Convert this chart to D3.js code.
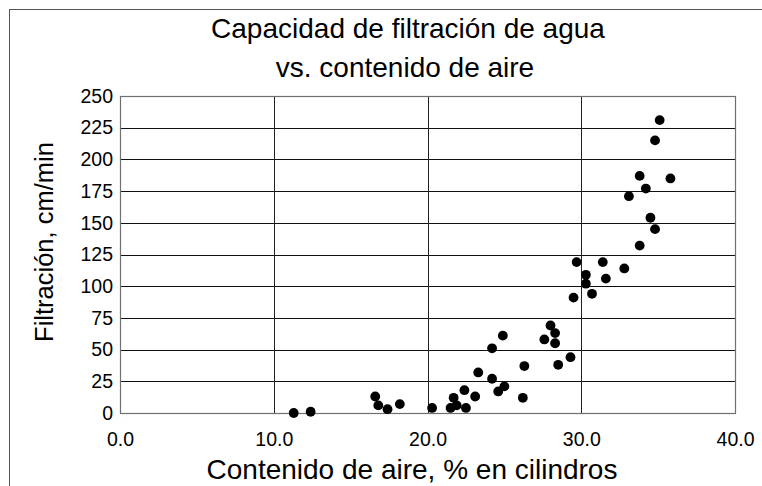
<!DOCTYPE html>
<html>
<head>
<meta charset="utf-8">
<script src="https://cdn.jsdelivr.net/npm/d3@7"></script>
<style>
  body { margin: 0; background: #fff; }
  svg { display: block; font-family: "Liberation Sans", Arial, sans-serif; }
</style>
</head>
<body>
<svg id="chart" width="762" height="486"></svg>
<script>
// valores
var aire = [11.3, 12.4, 16.6, 16.8, 17.4, 18.2, 20.3, 21.5, 21.7, 21.9, 22.5, 22.4,
  23.1, 23.3, 24.2, 24.2, 24.6, 25.0, 24.9, 26.2, 26.3, 27.6, 28.0, 28.3, 28.3,
  28.5, 29.3, 29.5, 29.7, 30.3, 30.3, 30.7, 31.4, 31.6, 32.8, 33.1, 33.8, 33.8,
  34.2, 34.5, 34.8, 34.8, 35.1, 35.8];
var filtracion = [0, 1, 13, 6, 3, 7, 4, 4, 12, 6, 4, 18,
  13, 32, 51, 27, 17, 21, 61, 12, 37, 58, 69, 63, 55,
  38, 44, 91, 119, 109, 102, 94, 119, 106, 114, 171, 187, 132,
  177, 154, 145, 215, 231, 185];
var xTicks = [0, 10, 20, 30, 40];
var yTicks = [0, 25, 50, 75, 100, 125, 150, 175, 200, 225, 250];

var svg = d3.select("#chart");

// borde exterior del area del grafico
svg.append("rect")
  .attr("x", 9.5).attr("y", 9.5)
  .attr("width", 800).attr("height", 520)
  .attr("fill", "none")
  .attr("stroke", "#555");

var x = d3.scaleLinear().domain([0, 40]).range([120, 735]);
var y = d3.scaleLinear().domain([0, 250]).range([413, 96]);

// lineas de division
svg.append("g").selectAll("line")
  .data(yTicks)
  .join("line")
  .attr("x1", x(0)).attr("x2", x(40))
  .attr("y1", function(d) { return Math.round(y(d)) + 0.5 })
  .attr("y2", function(d) { return Math.round(y(d)) + 0.5 })
  .attr("stroke", "#111");

svg.append("g").selectAll("line")
  .data(xTicks.slice(1, 4))
  .join("line")
  .attr("x1", function(d) { return Math.round(x(d)) + 0.5 })
  .attr("x2", function(d) { return Math.round(x(d)) + 0.5 })
  .attr("y1", y(0)).attr("y2", y(250))
  .attr("stroke", "#222");

// marco del area de trazado
svg.append("rect")
  .attr("x", x(0) + 0.5).attr("y", y(250) + 0.5)
  .attr("width", x(40) - x(0)).attr("height", y(0) - y(250))
  .attr("fill", "none")
  .attr("stroke", "#707070")
  .attr("stroke-width", 1.2);

// ejes (solo etiquetas)
var xAxis = svg.append("g")
  .attr("transform", "translate(0," + y(0) + ")")
  .call(d3.axisBottom(x).tickValues(xTicks).tickFormat(d3.format(".1f")).tickSize(0).tickPadding(19));
var yAxis = svg.append("g")
  .attr("transform", "translate(" + x(0) + ",0)")
  .call(d3.axisLeft(y).tickValues(yTicks).tickSize(0).tickPadding(7));

[xAxis, yAxis].forEach(function(a) {
  a.select(".domain").remove();
  a.selectAll("text")
    .attr("font-family", "Liberation Sans, Arial, sans-serif")
    .attr("font-size", 19.5)
    .attr("fill", "#000");
});

// puntos
svg.append("g").selectAll("circle")
  .data(aire)
  .join("circle")
  .attr("cx", function(d) { return x(d) })
  .attr("cy", function(d, i) { return y(filtracion[i]) })
  .attr("r", 4.9)
  .attr("fill", "#000");

// titulos
svg.append("text")
  .attr("x", 408).attr("y", 38)
  .attr("text-anchor", "middle")
  .attr("font-size", 28)
  .text("Capacidad de filtración de agua");
svg.append("text")
  .attr("x", 405).attr("y", 77)
  .attr("text-anchor", "middle")
  .attr("font-size", 28)
  .text("vs. contenido de aire");

svg.append("text")
  .attr("x", 412).attr("y", 479)
  .attr("text-anchor", "middle")
  .attr("font-size", 28)
  .text("Contenido de aire, % en cilindros");

svg.append("text")
  .attr("transform", "translate(53,242) rotate(-90)")
  .attr("text-anchor", "middle")
  .attr("font-size", 25.5)
  .text("Filtración, cm/min");
</script>
</body>
</html>
